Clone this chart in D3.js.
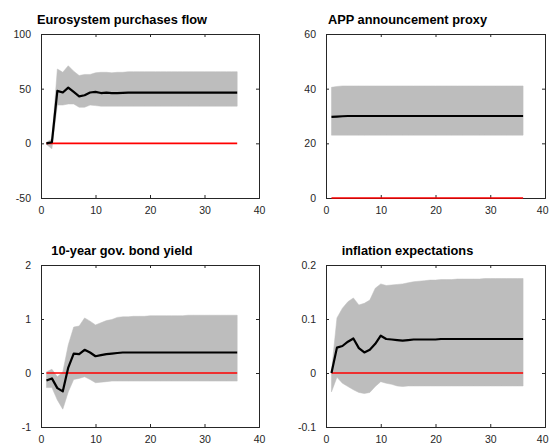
<!DOCTYPE html>
<html>
<head>
<meta charset="utf-8">
<script src="https://cdn.jsdelivr.net/npm/d3@7"></script>
<style>
body { margin: 0; background: #fff; }
</style>
</head>
<body>
<script>
// horizons (periods after the shock)
var horizons = [1, 2, 3, 4, 5, 6, 7, 8, 9, 10, 11, 12, 13, 14, 15, 16, 17, 18,
	19, 20, 21, 22, 23, 24, 25, 26, 27, 28, 29, 30, 31, 32, 33, 34, 35, 36];
var xTicks = [0, 10, 20, 30, 40];

var titles = ["Eurosystem purchases flow", "APP announcement proxy",
	"10-year gov. bond yield", "inflation expectations"];

// Eurosystem purchases flow
var flowMedian = [0, 1, 48, 46.5, 51, 47, 43, 44, 46.5, 47, 46, 46.3, 46, 46, 46.2, 46.3, 46.3, 46.3,
	46.3, 46.3, 46.3, 46.3, 46.3, 46.3, 46.3, 46.3, 46.3, 46.3, 46.3, 46.3, 46.3, 46.3, 46.3, 46.3, 46.3, 46.3];
var flowUpper = [1, 4, 68, 65, 71, 66, 62, 63, 63, 64.5, 65, 65, 64.5, 65, 65, 65.5, 65.5, 65.5,
	65.5, 65.5, 65.5, 65.5, 65.5, 65.5, 65.5, 65.5, 65.5, 65.5, 65.5, 65.5, 65.5, 65.5, 65.5, 65.5, 65.5, 65.5];
var flowLower = [-1, -5, 35, 35, 36, 36, 33, 33, 35, 34.5, 34, 34, 34, 34, 34, 34, 34, 34,
	34, 34, 34, 34, 34, 34, 34, 34, 34, 34, 34, 34, 34, 34, 34, 34, 34, 34];
var flowTicks = [-50, 0, 50, 100];

// APP announcement proxy
var appMedian = [29.7, 29.8, 29.9, 30, 30, 30, 30, 30, 30, 30, 30, 30, 30, 30, 30, 30, 30, 30,
	30, 30, 30, 30, 30, 30, 30, 30, 30, 30, 30, 30, 30, 30, 30, 30, 30, 30];
var appUpper = [40.5, 40.8, 41, 41, 41, 41, 41, 41, 41, 41, 41, 41, 41, 41, 41, 41, 41, 41,
	41, 41, 41, 41, 41, 41, 41, 41, 41, 41, 41, 41, 41, 41, 41, 41, 41, 41];
var appLower = [23, 23, 23, 23, 23, 23, 23, 23, 23, 23, 23, 23, 23, 23, 23, 23, 23, 23,
	23, 23, 23, 23, 23, 23, 23, 23, 23, 23, 23, 23, 23, 23, 23, 23, 23, 23];
var appTicks = [0, 20, 40, 60];

// 10-year gov. bond yield
var yieldMedian = [-0.14, -0.1, -0.28, -0.34, 0.1, 0.36, 0.35, 0.43, 0.38, 0.31, 0.33, 0.35, 0.36, 0.37, 0.38, 0.38, 0.38, 0.38,
	0.38, 0.38, 0.38, 0.38, 0.38, 0.38, 0.38, 0.38, 0.38, 0.38, 0.38, 0.38, 0.38, 0.38, 0.38, 0.38, 0.38, 0.38];
var yieldUpper = [0.02, 0.07, -0.07, 0.02, 0.52, 0.85, 0.87, 1.02, 0.96, 0.89, 0.93, 0.97, 0.99, 1.03, 1.04, 1.04, 1.05, 1.05,
	1.05, 1.06, 1.06, 1.06, 1.06, 1.06, 1.06, 1.06, 1.07, 1.07, 1.07, 1.07, 1.07, 1.07, 1.07, 1.07, 1.07, 1.07];
var yieldLower = [-0.27, -0.27, -0.5, -0.67, -0.35, -0.12, -0.1, -0.07, -0.12, -0.18, -0.17, -0.16, -0.15, -0.15, -0.15, -0.15, -0.15, -0.15,
	-0.15, -0.15, -0.15, -0.15, -0.15, -0.15, -0.15, -0.15, -0.15, -0.15, -0.15, -0.15, -0.15, -0.15, -0.15, -0.15, -0.15, -0.15];
var yieldTicks = [-1, 0, 1, 2];

// inflation expectations
var inflMedian = [0, 0.047, 0.05, 0.058, 0.064, 0.046, 0.038, 0.043, 0.054, 0.069, 0.063, 0.062, 0.061, 0.06, 0.061, 0.062, 0.062, 0.062,
	0.062, 0.062, 0.063, 0.063, 0.063, 0.063, 0.063, 0.063, 0.063, 0.063, 0.063, 0.063, 0.063, 0.063, 0.063, 0.063, 0.063, 0.063];
var inflUpper = [0.003, 0.102, 0.12, 0.132, 0.139, 0.126, 0.129, 0.135, 0.157, 0.165, 0.162, 0.163, 0.164, 0.165, 0.167, 0.169, 0.17, 0.171,
	0.172, 0.172, 0.173, 0.173, 0.173, 0.174, 0.174, 0.174, 0.174, 0.174, 0.175, 0.175, 0.175, 0.175, 0.175, 0.175, 0.175, 0.175];
var inflLower = [-0.035, -0.008, -0.019, -0.025, -0.031, -0.036, -0.038, -0.036, -0.025, -0.016, -0.019, -0.021, -0.024, -0.025, -0.024, -0.024, -0.024, -0.024,
	-0.024, -0.024, -0.024, -0.024, -0.024, -0.024, -0.024, -0.024, -0.024, -0.024, -0.024, -0.024, -0.024, -0.024, -0.024, -0.024, -0.024, -0.024];
var inflTicks = [-0.1, 0, 0.1, 0.2];

var panels = [
	{title: titles[0], median: flowMedian, upper: flowUpper, lower: flowLower, ticks: flowTicks, x0: 41, x1: 259, y0: 34, y1: 198, ty: 24},
	{title: titles[1], median: appMedian, upper: appUpper, lower: appLower, ticks: appTicks, x0: 326, x1: 545, y0: 34, y1: 198, ty: 24},
	{title: titles[2], median: yieldMedian, upper: yieldUpper, lower: yieldLower, ticks: yieldTicks, x0: 41, x1: 259, y0: 265, y1: 427, ty: 255},
	{title: titles[3], median: inflMedian, upper: inflUpper, lower: inflLower, ticks: inflTicks, x0: 326, x1: 545, y0: 265, y1: 427, ty: 255}
];

var w = 549;
var h = 446;
var svg = d3.select("body")
			.append("svg")
			.attr("width", w)
			.attr("height", h)
			.style("font-family", "'Liberation Sans', Arial, sans-serif");

panels.forEach(function(p) {
	drawPanel(p);
});

function drawPanel(p) {
	var x = d3.scaleLinear().domain([0, 40]).range([p.x0, p.x1]);
	var y = d3.scaleLinear().domain([p.ticks[0], p.ticks[p.ticks.length - 1]]).range([p.y1, p.y0]);
	var g = svg.append("g");

	// axes with inward ticks on all four sides
	var tl = 3;
	var bottom = g.append("g")
	 .attr("transform", "translate(0," + p.y1 + ")")
	 .call(d3.axisBottom(x).tickValues(xTicks).tickSize(-tl).tickPadding(9).tickFormat(d3.format("d")));
	g.append("g")
	 .attr("transform", "translate(0," + p.y0 + ")")
	 .call(d3.axisTop(x).tickValues(xTicks).tickSize(-tl).tickFormat(""));
	g.append("g")
	 .attr("transform", "translate(" + p.x0 + ",0)")
	 .call(d3.axisLeft(y).tickValues(p.ticks).tickSize(-tl).tickPadding(10).tickFormat(function(d) { return d; }));
	g.append("g")
	 .attr("transform", "translate(" + p.x1 + ",0)")
	 .call(d3.axisRight(y).tickValues(p.ticks).tickSize(-tl).tickFormat(""));

	g.selectAll(".domain").attr("stroke", "#262626");
	g.selectAll(".tick line").attr("stroke", "#262626");
	g.selectAll(".tick text")
	 .attr("fill", "#262626")
	 .attr("font-size", "10.5px")
	 .attr("font-family", "'Liberation Sans', Arial, sans-serif");

	// last x label would run past the page edge on the right-hand panels
	if (p.x1 > w - 8) {
		bottom.selectAll(".tick text")
		 .filter(function(d) { return d === 40; })
		 .attr("text-anchor", "end")
		 .attr("dx", (w - 1 - p.x1) + "px");
	}

	var rows = horizons.map(function(t, i) {
		return {t: t, m: p.median[i], hi: p.upper[i], lo: p.lower[i]};
	});

	var area = d3.area()
		.x(function(d) { return x(d.t); })
		.y0(function(d) { return y(d.lo); })
		.y1(function(d) { return y(d.hi); });
	g.append("path")
	 .datum(rows)
	 .attr("d", area)
	 .attr("fill", "#bdbdbd")
	 .attr("stroke", "#bdbdbd")
	 .attr("stroke-width", 0.5);

	g.append("line")
	 .attr("x1", x(horizons[0]))
	 .attr("x2", x(horizons[horizons.length - 1]))
	 .attr("y1", y(0))
	 .attr("y2", y(0))
	 .attr("stroke", "#ff0000")
	 .attr("stroke-width", 1.6);

	var line = d3.line()
		.x(function(d) { return x(d.t); })
		.y(function(d) { return y(d.m); });
	g.append("path")
	 .datum(rows)
	 .attr("d", line)
	 .attr("fill", "none")
	 .attr("stroke", "#000")
	 .attr("stroke-width", 2.2)
	 .attr("stroke-linejoin", "round");

	g.append("text")
	 .text(p.title)
	 .attr("x", (p.x0 + p.x1) / 2 - 28)
	 .attr("y", p.ty)
	 .attr("text-anchor", "middle")
	 .attr("font-weight", "bold")
	 .attr("font-size", "12.8px")
	 .attr("fill", "#000");
}
</script>
</body>
</html>
